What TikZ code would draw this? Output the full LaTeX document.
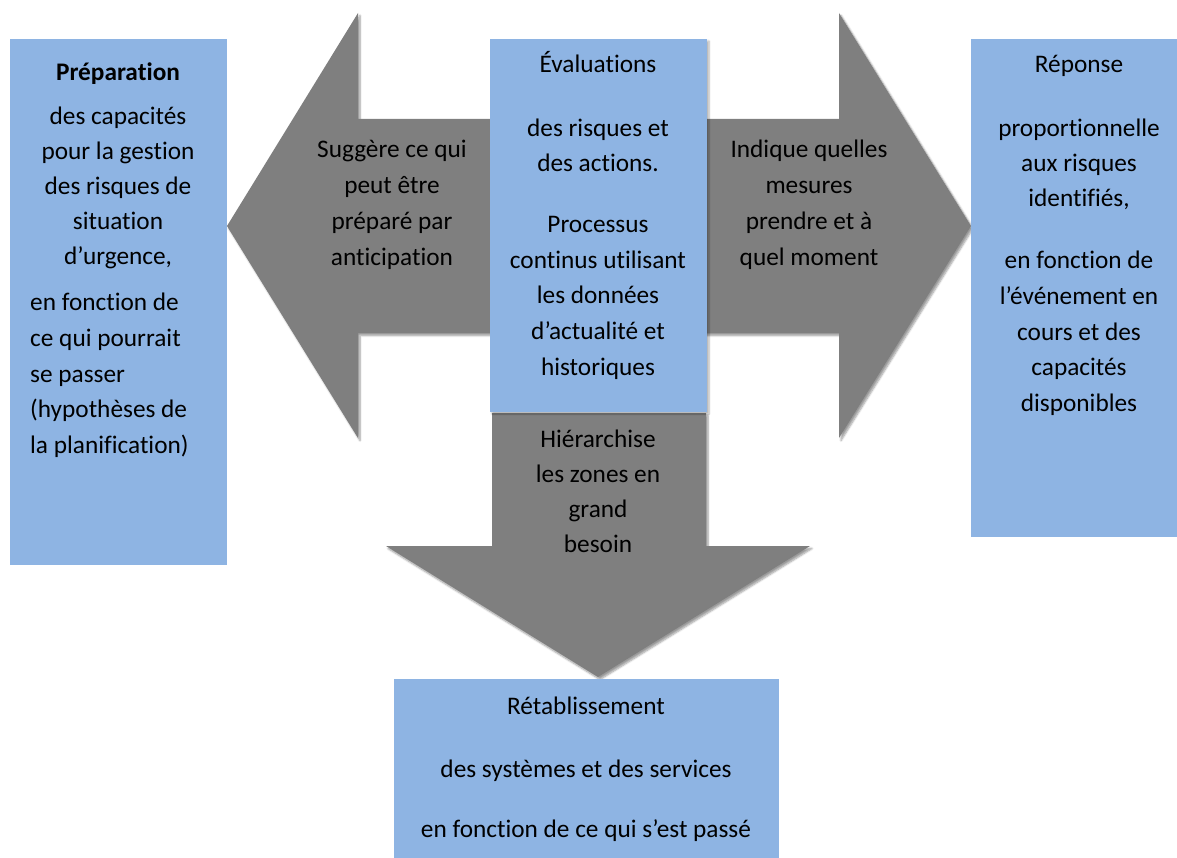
\documentclass[tikz,border=0pt]{standalone}
\usepackage{fontspec}
\setmainfont[Ligatures={NoCommon}]{Carlito}
\usetikzlibrary{shadows.blur}

\definecolor{boxblue}{HTML}{8EB4E3}
\definecolor{arrowgrey}{HTML}{7F7F7F}
\newcommand\bodysize{\fontsize{25.3}{35}\selectfont}

\tikzset{
  bigarrow/.style={fill=arrowgrey, draw=none,
    blur shadow={shadow xshift=2pt, shadow yshift=-2.5pt, shadow blur steps=6, shadow opacity=40}},
  panel/.style={fill=boxblue, draw=none},
  txt/.style={font=\bodysize, anchor=base, inner sep=0pt, text=black},
  txtleft/.style={txt, anchor=base west},
}

\begin{document}
\begin{tikzpicture}[x=1pt, y=-1pt]
\useasboundingbox (0,0) rectangle (1177,858);

% grey arrows
\fill[bigarrow] (598,119) -- (358,119) -- (358,13) -- (227,226) -- (358,438) -- (358,333) -- (598,333) -- cycle;
\fill[bigarrow] (598,119) -- (839,119) -- (839,13) -- (971,226) -- (839,438) -- (839,333) -- (598,333) -- cycle;
\fill[bigarrow] (492,413) -- (706,413) -- (706,546) -- (810,546) -- (598,677) -- (386,546) -- (492,546) -- cycle;

% blue panels
\fill[panel] (10,39) rectangle (227,565);
\fill[panel, blur shadow={shadow xshift=2pt, shadow yshift=-2pt, shadow blur steps=6, shadow opacity=30}] (490,39) rectangle (707,412);
\fill[panel] (971,39) rectangle (1185,537);
\fill[panel] (394,679) rectangle (779,858);

% Préparation
\node[txt, font=\bodysize\bfseries] (prep) at (118,81) {Préparation};
\foreach \s [count=\i from 0] in {des capacités, pour la gestion, des risques de, situation, {d’urgence,}}
  \node[txt] (prepA\i) at (118,125+35*\i) {\s};
\foreach \s [count=\i from 0] in {en fonction de, ce qui pourrait, se passer, {(hypothèses de}, {la planification)}}
  \node[txtleft] (prepB\i) at (30,311+35.5*\i) {\s};

% left arrow
\foreach \s [count=\i from 0] in {Suggère ce qui, peut être, préparé par, anticipation}
  \node[txt] (sugg\i) at (392,158+35.7*\i) {\s};

% Évaluations
\node[txt] (eval) at (598,73) {Évaluations};
\foreach \s [count=\i from 0] in {des risques et, des actions.}
  \node[txt] (evalA\i) at (598,137+35*\i) {\s};
\foreach \s [count=\i from 0] in {Processus, continus utilisant, les données, d’actualité et, historiques}
  \node[txt] (evalB\i) at (598,233+35.5*\i) {\s};

% right arrow
\foreach \s [count=\i from 0] in {Indique quelles, mesures, prendre et à, quel moment}
  \node[txt] (indi\i) at (809,158+35.7*\i) {\s};

% Réponse
\node[txt] (rep) at (1079,73) {Réponse};
\foreach \s [count=\i from 0] in {proportionnelle, aux risques, {identifiés,}}
  \node[txt] (repA\i) at (1079,137+35*\i) {\s};
\foreach \s [count=\i from 0] in {en fonction de, l’événement en, cours et des, capacités, disponibles}
  \node[txt] (repB\i) at (1079,269+35.5*\i) {\s};

% down arrow
\foreach \s [count=\i from 0] in {Hiérarchise, les zones en, grand, besoin}
  \node[txt] (hier\i) at (598,447+35*\i) {\s};

% Rétablissement
\node[txt] (reta) at (586,714) {Rétablissement};
\node[txt] (retaA) at (586,777) {des systèmes et des services};
\node[txt] (retaB) at (586,837) {en fonction de ce qui s’est passé};
\end{tikzpicture}
\end{document}
